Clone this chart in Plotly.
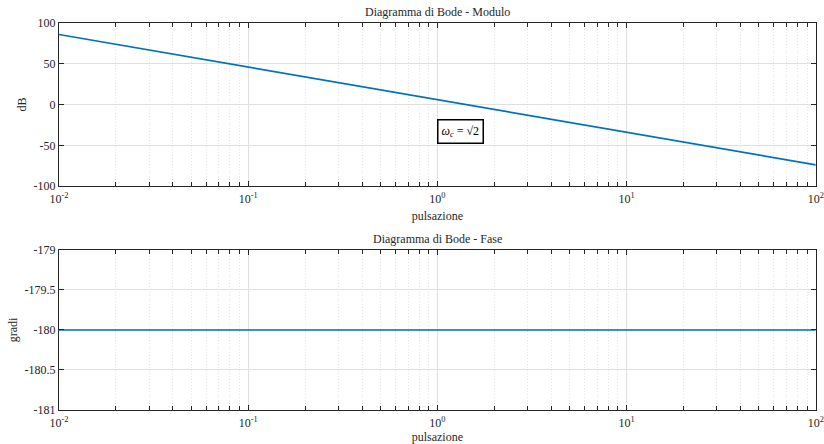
import numpy as np
import plotly.graph_objects as go

# Data
omega = [0.01, 100]
mag_db = [86.02, -73.98]
phase_deg = [-180, -180]

x_tickvals = [0.01, 0.1, 1, 10, 100]
x_ticktext = ["10<sup>-2</sup>", "10<sup>-1</sup>", "10<sup>0</sup>", "10<sup>1</sup>", "10<sup>2</sup>"]
minor_vals = [m * d for d in [0.01, 0.1, 1, 10] for m in range(2, 10)]

y1_vals = [-100, -50, 0, 50, 100]
y1_text = ["-100", "-50", "0", "50", "100"]
y2_vals = [-181, -180.5, -180, -179.5, -179]
y2_text = ["-181", "-180.5", "-180", "-179.5", "-179"]

FONT = "Liberation Serif"
AX = "#262626"
BLUE = "#0072BD"

fig = go.Figure()
fig.add_trace(go.Scatter(x=omega, y=mag_db, mode="lines", line=dict(color=BLUE, width=1.6),
                         xaxis="x", yaxis="y", showlegend=False))
fig.add_trace(go.Scatter(x=omega, y=phase_deg, mode="lines", line=dict(color=BLUE, width=1.6),
                         xaxis="x2", yaxis="y2", showlegend=False))

xcommon = dict(type="log", range=[-2, 2], tickmode="array", tickvals=x_tickvals, ticktext=x_ticktext,
               showline=True, linecolor=AX, linewidth=1, mirror="ticks", ticks="inside", ticklen=5,
               tickcolor=AX, showgrid=True, gridcolor="#e0e0e0", gridwidth=1, zeroline=False,
               automargin=False, ticklabelstandoff=2,
               tickfont=dict(family=FONT, size=12, color=AX),
               minor=dict(tickmode="array", tickvals=minor_vals, ticks="inside", ticklen=4,
                          tickcolor=AX, showgrid=True, gridcolor="#e6e6e6", griddash="1px,2px"),
               title=dict(text="pulsazione", font=dict(family=FONT, size=12, color=AX), standoff=6))
ycommon = dict(showline=True, linecolor=AX, linewidth=1, mirror="ticks", ticks="inside", ticklen=5,
               tickcolor=AX, showgrid=True, gridcolor="#e0e0e0", gridwidth=1, zeroline=False,
               automargin=False,
               tickfont=dict(family=FONT, size=12, color=AX), tickmode="array")

fig.update_layout(
    width=824, height=444, margin=dict(l=0, r=0, t=0, b=0),
    paper_bgcolor="white", plot_bgcolor="white",
    xaxis=dict(xcommon, domain=[0.0716, 0.990], anchor="y"),
    yaxis=dict(ycommon, domain=[0.581, 0.948], range=[-100, 100], tickvals=y1_vals, ticktext=y1_text,
               anchor="x", title=dict(text="dB", font=dict(family=FONT, size=12, color=AX), standoff=4)),
    xaxis2=dict(xcommon, domain=[0.0716, 0.990], anchor="y2"),
    yaxis2=dict(ycommon, domain=[0.0766, 0.437], range=[-181, -179], tickvals=y2_vals, ticktext=y2_text,
                anchor="x2", title=dict(text="gradi", font=dict(family=FONT, size=12, color=AX), standoff=4)),
    annotations=[
        dict(text="Diagramma di Bode - Modulo", xref="paper", yref="paper", x=0.531, y=0.953,
             xanchor="center", yanchor="bottom", showarrow=False, font=dict(family=FONT, size=12, color=AX)),
        dict(text="Diagramma di Bode - Fase", xref="paper", yref="paper", x=0.531, y=0.442,
             xanchor="center", yanchor="bottom", showarrow=False, font=dict(family=FONT, size=12, color=AX)),
        dict(text="<i>ω<sub>c</sub></i> = √2", xref="x", yref="y", x=0, y=-33,
             xanchor="left", yanchor="middle", showarrow=False, bordercolor="black", borderwidth=1.5,
             borderpad=3, bgcolor="white", font=dict(family=FONT, size=12, color="black")),
    ],
)

fig.write_html("out.html")
